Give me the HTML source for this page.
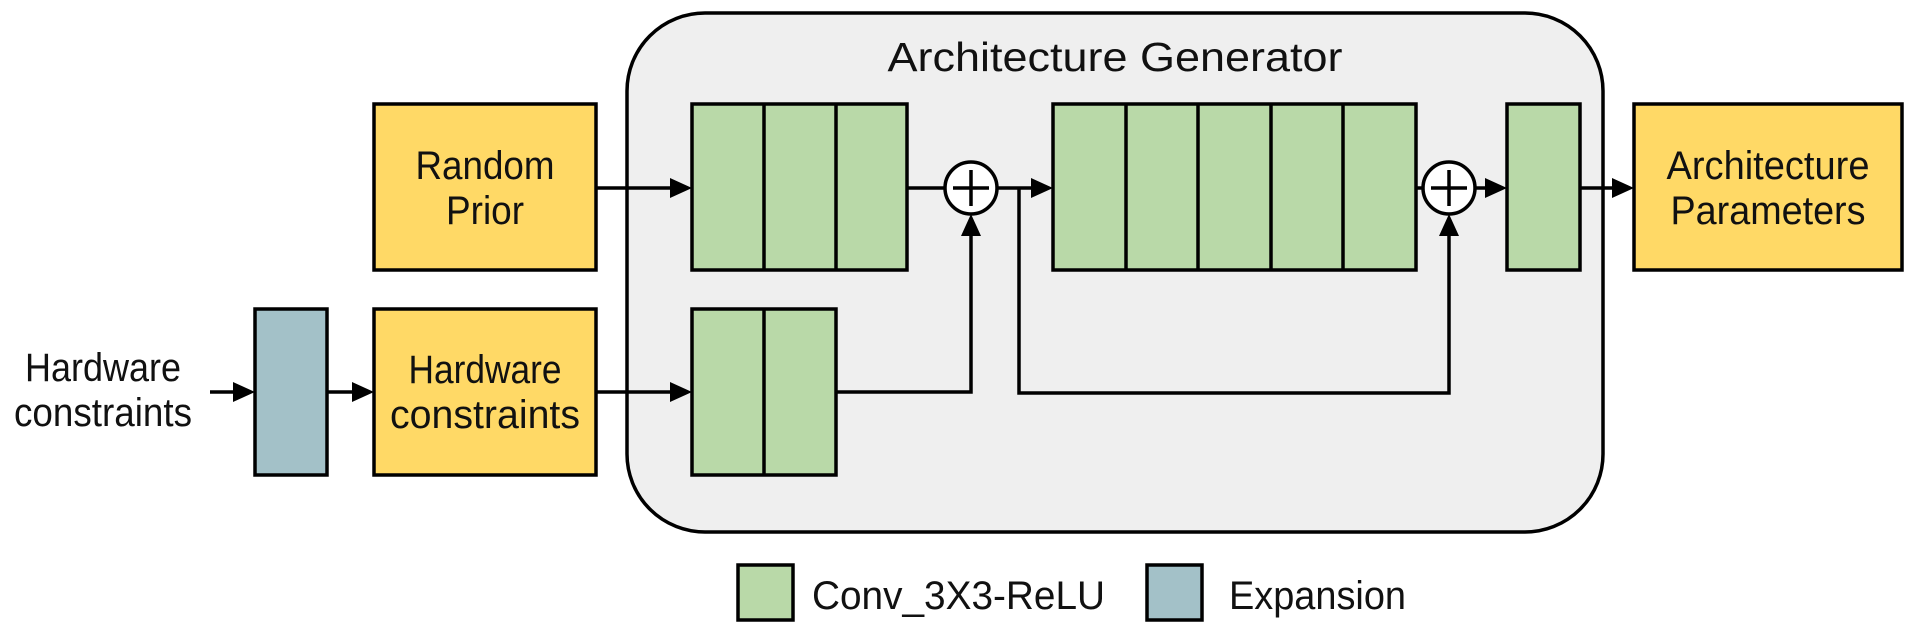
<!DOCTYPE html>
<html><head><meta charset="utf-8"><style>html,body{margin:0;padding:0;background:#fff}svg{display:block}</style></head>
<body>
<svg width="1914" height="632" viewBox="0 0 1914 632" xmlns="http://www.w3.org/2000/svg" font-family="Liberation Sans, Arial, sans-serif" font-size="40" fill="#111">
<rect x="627" y="13" width="976" height="519" rx="78" fill="#efefef" stroke="#000" stroke-width="3.5"/>
<text x="1115" y="71" font-size="41" text-anchor="middle" textLength="455" lengthAdjust="spacingAndGlyphs">Architecture Generator</text>

<g stroke="#000" stroke-width="3.5">
<rect x="374" y="104" width="222" height="166" fill="#ffd966"/>
<rect x="374" y="309" width="222" height="166" fill="#ffd966"/>
<rect x="255" y="309" width="72" height="166" fill="#a3c1c8"/>
<rect x="1634" y="104" width="268" height="166" fill="#ffd966"/>
<rect x="692" y="104" width="215" height="166" fill="#b9d9a8"/>
<line x1="764" y1="104" x2="764" y2="270"/><line x1="836" y1="104" x2="836" y2="270"/>
<rect x="692" y="309" width="144" height="166" fill="#b9d9a8"/>
<line x1="764" y1="309" x2="764" y2="475"/>
<rect x="1053" y="104" width="363" height="166" fill="#b9d9a8"/>
<line x1="1126" y1="104" x2="1126" y2="270"/><line x1="1198" y1="104" x2="1198" y2="270"/><line x1="1271" y1="104" x2="1271" y2="270"/><line x1="1343" y1="104" x2="1343" y2="270"/>
<rect x="1507" y="104" width="73" height="166" fill="#b9d9a8"/>
<circle cx="971" cy="188" r="26" fill="#fff"/>
<line x1="953" y1="188" x2="989" y2="188"/><line x1="971" y1="170" x2="971" y2="206"/>
<circle cx="1449" cy="188" r="26" fill="#fff"/>
<line x1="1431" y1="188" x2="1467" y2="188"/><line x1="1449" y1="170" x2="1449" y2="206"/>
<rect x="738" y="565" width="55" height="55" fill="#b9d9a8"/>
<rect x="1147" y="565" width="55" height="55" fill="#a3c1c8"/>
</g>

<g stroke="#000" stroke-width="3.5" fill="none">
<line x1="596" y1="188" x2="675" y2="188"/>
<line x1="596" y1="392" x2="675" y2="392"/>
<line x1="210" y1="392" x2="238" y2="392"/>
<line x1="327" y1="392" x2="357" y2="392"/>
<polyline points="836,392 971,392 971,232"/>
<line x1="907" y1="188" x2="945" y2="188"/>
<line x1="997" y1="188" x2="1036" y2="188"/>
<polyline points="1019,188 1019,393 1449,393 1449,232"/>
<line x1="1416" y1="188" x2="1423" y2="188"/>
<line x1="1475" y1="188" x2="1490" y2="188"/>
<line x1="1580" y1="188" x2="1617" y2="188"/>
</g>
<g fill="#000">
<polygon points="692,188 670,178 670,198"/>
<polygon points="692,392 670,382 670,402"/>
<polygon points="255,392 233,382 233,402"/>
<polygon points="374,392 352,382 352,402"/>
<polygon points="1053,188 1031,178 1031,198"/>
<polygon points="1507,188 1485,178 1485,198"/>
<polygon points="1634,188 1612,178 1612,198"/>
<polygon points="971,214 961,236 981,236"/>
<polygon points="1449,214 1439,236 1459,236"/>
</g>

<g text-anchor="middle">
<text x="485" y="179" textLength="139" lengthAdjust="spacingAndGlyphs">Random</text>
<text x="485" y="224" textLength="78" lengthAdjust="spacingAndGlyphs">Prior</text>
<text x="485" y="383" textLength="153" lengthAdjust="spacingAndGlyphs">Hardware</text>
<text x="485" y="428" textLength="190" lengthAdjust="spacingAndGlyphs">constraints</text>
<text x="103" y="381" textLength="156" lengthAdjust="spacingAndGlyphs">Hardware</text>
<text x="103" y="426" textLength="178" lengthAdjust="spacingAndGlyphs">constraints</text>
<text x="1768" y="179" textLength="203" lengthAdjust="spacingAndGlyphs">Architecture</text>
<text x="1768" y="224" textLength="195" lengthAdjust="spacingAndGlyphs">Parameters</text>
</g>
<text x="812" y="609" textLength="293" lengthAdjust="spacingAndGlyphs">Conv_3X3-ReLU</text>
<text x="1229" y="609" textLength="177" lengthAdjust="spacingAndGlyphs">Expansion</text>
</svg>
</body></html>
